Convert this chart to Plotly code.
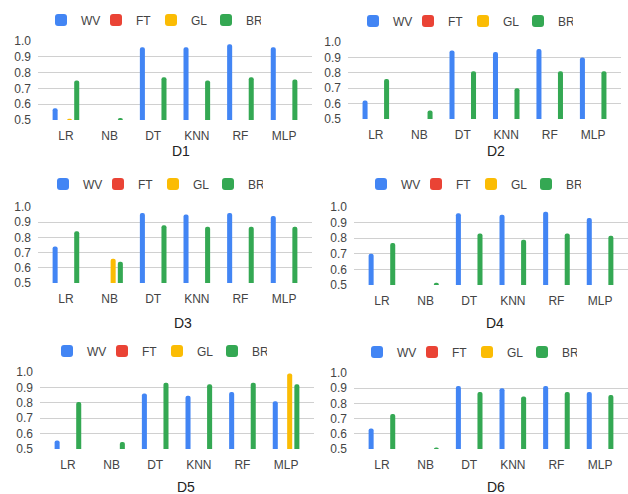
import plotly.graph_objects as go
from plotly.subplots import make_subplots

W, H = 628, 494

models = ["LR", "NB", "DT", "KNN", "RF", "MLP"]
methods = ["WV", "FT", "GL", "BR"]
datasets = ["D1", "D2", "D3", "D4", "D5", "D6"]

# Accuracy per dataset and method; None where no bar shows above the 0.5 floor
d1_wv = [0.575, None, 0.96, 0.96, 0.98, 0.96]
d1_ft = [None, None, None, None, None, None]
d1_gl = [0.508, None, None, None, None, None]
d1_br = [0.75, 0.513, 0.77, 0.75, 0.77, 0.757]

d2_wv = [0.62, None, 0.945, 0.935, 0.955, 0.90]
d2_ft = [None, None, None, None, None, None]
d2_gl = [None, None, None, None, None, None]
d2_br = [0.76, 0.555, 0.81, 0.70, 0.81, 0.81]

d3_wv = [0.74, None, 0.96, 0.95, 0.96, 0.94]
d3_ft = [None, None, None, None, None, None]
d3_gl = [None, 0.66, None, None, None, None]
d3_br = [0.84, 0.64, 0.88, 0.87, 0.87, 0.87]

d4_wv = [0.70, None, 0.96, 0.95, 0.97, 0.93]
d4_ft = [None, None, None, None, None, None]
d4_gl = [None, None, None, None, None, None]
d4_br = [0.77, 0.515, 0.83, 0.79, 0.83, 0.815]

d5_wv = [0.556, None, 0.86, 0.845, 0.87, 0.81]
d5_ft = [None, None, None, None, None, None]
d5_gl = [None, None, None, None, None, 0.99]
d5_br = [0.805, 0.545, 0.93, 0.92, 0.93, 0.92]

d6_wv = [0.635, None, 0.915, 0.90, 0.915, 0.875]
d6_ft = [None, None, None, None, None, None]
d6_gl = [None, None, None, None, None, None]
d6_br = [0.73, 0.51, 0.875, 0.845, 0.875, 0.855]

series = {
    "D1": [d1_wv, d1_ft, d1_gl, d1_br],
    "D2": [d2_wv, d2_ft, d2_gl, d2_br],
    "D3": [d3_wv, d3_ft, d3_gl, d3_br],
    "D4": [d4_wv, d4_ft, d4_gl, d4_br],
    "D5": [d5_wv, d5_ft, d5_gl, d5_br],
    "D6": [d6_wv, d6_ft, d6_gl, d6_br],
}

colors = {"WV": "#4285F4", "FT": "#EA4335", "GL": "#FBBC04", "BR": "#34A853"}

# Panel geometry in pixels: plot box, legend anchor, caption position
panels = [
    dict(x0=38, x1=312, top=41, bot=120, lx=57, ly=20, tx=181, ty=151),
    dict(x0=348, x1=621, top=42, bot=119, lx=369, ly=21, tx=496, ty=151),
    dict(x0=38, x1=312, top=207, bot=283, lx=59, ly=184, tx=183, ty=323),
    dict(x0=354, x1=628, top=207, bot=285, lx=377, ly=184, tx=495, ty=323),
    dict(x0=40, x1=314, top=372, bot=449, lx=63, ly=351, tx=186, ty=487),
    dict(x0=354, x1=628, top=373, bot=449, lx=373, ly=352, tx=496, ty=487),
]

FONT = "Liberation Sans, Arial, sans-serif"

fig = make_subplots(rows=3, cols=2)

layout = dict(
    width=W, height=H,
    margin=dict(l=0, r=0, t=0, b=0, autoexpand=False),
    paper_bgcolor="white", plot_bgcolor="white",
    barmode="group", bargap=0.34, bargroupgap=0.3,
    font=dict(family=FONT, size=12, color="#444444"),
    annotations=[],
)

for i, (name, p) in enumerate(zip(datasets, panels)):
    r, c = i // 2 + 1, i % 2 + 1
    leg = "legend" if i == 0 else f"legend{i + 1}"
    for m, vals in zip(methods, series[name]):
        fig.add_trace(
            go.Bar(
                x=models, y=vals, name=m, legend=leg,
                marker=dict(color=colors[m], cornerradius=2, line=dict(width=0)),
                hoverinfo="x+y+name",
            ),
            row=r, col=c,
        )
    xa = "xaxis" if i == 0 else f"xaxis{i + 1}"
    ya = "yaxis" if i == 0 else f"yaxis{i + 1}"
    layout[xa] = dict(
        domain=[p["x0"] / W, p["x1"] / W],
        range=[-0.64, 5.64],
        showgrid=False, showline=False, zeroline=False,
        ticks="", ticklabelstandoff=7,
        tickfont=dict(family=FONT, size=12, color="#444444"),
    )
    layout[ya] = dict(
        domain=[1 - p["bot"] / H, 1 - p["top"] / H],
        range=[0.5, 1.0],
        tickvals=[0.5, 0.6, 0.7, 0.8, 0.9, 1.0],
        ticktext=["0.5", "0.6", "0.7", "0.8", "0.9", "1.0"],
        showgrid=True, gridcolor="#d0d0d0", gridwidth=1,
        showline=False, zeroline=False,
        ticks="", ticklabelstandoff=6,
        tickfont=dict(family=FONT, size=12, color="#444444"),
    )
    layout[leg] = dict(
        orientation="h",
        x=(p["lx"] - 16) / W, xanchor="left",
        y=1 - p["ly"] / H, yanchor="middle",
        entrywidth=10, entrywidthmode="pixels",
        font=dict(family=FONT, size=12, color="#444444"),
        bgcolor="rgba(0,0,0,0)", borderwidth=0,
        itemclick=False, itemdoubleclick=False,
    )
    layout["annotations"].append(
        dict(
            text=name, x=p["tx"] / W, y=1 - p["ty"] / H,
            xref="paper", yref="paper", xanchor="center", yanchor="middle",
            showarrow=False, font=dict(family=FONT, size=14, color="#222222"),
        )
    )

fig.update_layout(**layout)
fig.write_html("out.html")
